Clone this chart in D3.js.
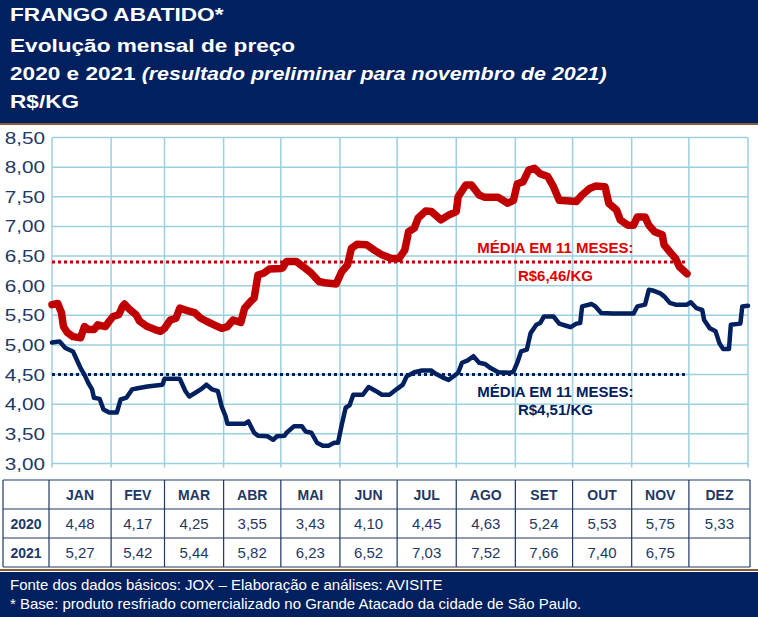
<!DOCTYPE html>
<html>
<head>
<meta charset="utf-8">
<script src="https://cdn.jsdelivr.net/npm/d3@7"></script>
<style>
  body { margin: 0; background: #fff; }
  svg { display: block; font-family: Arial, "Liberation Sans", sans-serif; }
</style>
</head>
<body>
<svg id="chart" width="758" height="617"></svg>
<script>
// ---- data ----
const titleLines = ["FRANGO ABATIDO*", "Evolução mensal de preço", "2020 e 2021", "R$/KG"];
const titleNote = "(resultado preliminar para novembro de 2021)";
const footerLines = [
    "Fonte dos dados básicos: JOX – Elaboração e análises: AVISITE",
    "* Base: produto resfriado comercializado no Grande Atacado da cidade de São Paulo."
];

const months = ["JAN", "FEV", "MAR", "ABR", "MAI", "JUN", "JUL", "AGO", "SET", "OUT", "NOV", "DEZ"];
const monthStart = [0, 31, 59, 90, 120, 151, 181, 212, 243, 273, 304, 334, 365];
const yTicks = [3, 3.5, 4, 4.5, 5, 5.5, 6, 6.5, 7, 7.5, 8, 8.5];

const years = ["2020", "2021"];
const table2020 = [4.48, 4.17, 4.25, 3.55, 3.43, 4.10, 4.45, 4.63, 5.24, 5.53, 5.75, 5.33];
const table2021 = [5.27, 5.42, 5.44, 5.82, 6.23, 6.52, 7.03, 7.52, 7.66, 7.40, 6.75];

// day of year / price, 2021 (red)
const days2021 = [0, 3, 5, 6, 8, 11, 15, 17, 19, 22, 24, 28, 30, 32, 35, 37, 38, 41, 44, 46, 50, 54, 57, 59, 62, 65, 67, 71, 75, 78,
    81, 85, 89, 92, 95, 99, 101, 104, 106, 108, 111, 114, 120, 121, 123, 128, 133, 136, 140, 143, 149, 152, 155, 157, 160, 165, 169,
    173, 178, 182, 185, 187, 190, 192, 196, 199, 204, 208, 212, 213, 217, 220, 224, 227, 234, 239, 242, 244, 247, 250, 253, 256, 260,
    263, 266, 275, 278, 282, 285, 290, 292, 296, 298, 302, 305, 307, 311, 313, 316, 320, 321, 324, 327, 329, 333];
const vals2021 = [5.68, 5.70, 5.54, 5.31, 5.21, 5.14, 5.12, 5.31, 5.26, 5.26, 5.34, 5.31, 5.40, 5.48, 5.51, 5.65, 5.69, 5.59, 5.51, 5.40,
    5.31, 5.26, 5.23, 5.28, 5.42, 5.45, 5.62, 5.58, 5.54, 5.45, 5.40, 5.34, 5.28, 5.31, 5.42, 5.38, 5.62, 5.73, 5.79, 6.18, 6.21, 6.28,
    6.29, 6.30, 6.41, 6.41, 6.29, 6.21, 6.07, 6.05, 6.03, 6.24, 6.35, 6.63, 6.70, 6.69, 6.60, 6.52, 6.46, 6.46, 6.60, 6.91, 6.97, 7.14,
    7.26, 7.25, 7.11, 7.19, 7.25, 7.50, 7.70, 7.70, 7.53, 7.49, 7.49, 7.39, 7.44, 7.72, 7.75, 7.95, 7.98, 7.89, 7.84, 7.67, 7.44, 7.42,
    7.53, 7.64, 7.68, 7.67, 7.39, 7.28, 7.11, 7.02, 7.02, 7.16, 7.16, 7.02, 6.91, 6.86, 6.69, 6.57, 6.46, 6.32, 6.20];

// day of year / price, 2020 (navy)
const days2020 = [0, 4, 7, 11, 13, 15, 17, 19, 21, 22, 25, 27, 30, 34, 36, 39, 42, 45, 50, 58, 59, 67, 70, 72, 75, 78, 81, 84, 87, 89,
    91, 92, 101, 103, 106, 108, 113, 116, 118, 122, 123, 127, 131, 133, 136, 139, 142, 145, 148, 150, 152, 154, 156, 158, 163, 166,
    170, 173, 177, 181, 184, 186, 190, 194, 199, 201, 205, 208, 211, 213, 215, 218, 221, 224, 227, 230, 234, 240, 242, 244, 246, 249,
    251, 254, 256, 258, 263, 266, 270, 272, 275, 277, 278, 283, 285, 288, 294, 305, 307, 311, 313, 315, 319, 321, 324, 327, 333, 335,
    338, 341, 342, 345, 348, 350, 352, 355, 356, 361, 362, 365];
const vals2020 = [5.04, 5.06, 4.95, 4.89, 4.75, 4.61, 4.50, 4.36, 4.25, 4.11, 4.09, 3.91, 3.86, 3.86, 4.08, 4.11, 4.25, 4.27, 4.30, 4.33,
    4.43, 4.43, 4.22, 4.13, 4.19, 4.25, 4.33, 4.25, 4.22, 3.96, 3.80, 3.67, 3.67, 3.71, 3.52, 3.47, 3.46, 3.40, 3.46, 3.47, 3.52, 3.63,
    3.63, 3.54, 3.52, 3.35, 3.30, 3.30, 3.35, 3.35, 3.66, 3.94, 3.98, 4.16, 4.16, 4.29, 4.22, 4.16, 4.16, 4.26, 4.33, 4.47, 4.54, 4.57,
    4.57, 4.52, 4.45, 4.41, 4.48, 4.53, 4.70, 4.74, 4.81, 4.70, 4.68, 4.61, 4.54, 4.53, 4.55, 4.70, 4.89, 4.92, 5.20, 5.34, 5.37, 5.48,
    5.48, 5.36, 5.32, 5.30, 5.36, 5.37, 5.65, 5.69, 5.65, 5.54, 5.53, 5.53, 5.65, 5.68, 5.93, 5.92, 5.87, 5.82, 5.71, 5.68, 5.68, 5.72,
    5.62, 5.59, 5.42, 5.28, 5.23, 5.03, 4.93, 4.93, 5.34, 5.36, 5.65, 5.66];

// 11-month averages (line level as drawn) and their labels
const avgLevel = [6.40, 4.50];
const avgEndDay = 333;
const avgLabels = [["MÉDIA EM 11 MESES:", "R$6,46/KG"], ["MÉDIA EM 11 MESES:", "R$4,51/KG"]];

// ---- styling ----
const navy = "#002060";
const red = "#c00000";
const grid = "#9ccfdf";
const brown = "#8a5a32";

const svg = d3.select("#chart");
const br = d3.formatLocale({ decimal: ",", thousands: ".", grouping: [3], currency: ["R$", ""] });
const fmt = br.format(".2f");

// the source picture has its text a bit wider than plain Arial
function wideText(parent, px, py, stretch) {
    return parent.append("g")
        .attr("transform", `translate(${px},${py}) scale(${stretch},1)`)
        .append("text");
}

// header band
svg.append("rect").attr("x", 0).attr("y", 0).attr("width", 758).attr("height", 123).attr("fill", navy);
svg.append("rect").attr("x", 0).attr("y", 123).attr("width", 758).attr("height", 2).attr("fill", brown);

const titleY = [21, 52, 80, 108];
const title = svg.append("g").attr("fill", "#fff").attr("font-weight", "bold").attr("font-size", 19);
titleLines.forEach((t, i) => {
    const txt = wideText(title, 10, titleY[i], 1.19).text(t);
    if (i === 2) {
        txt.append("tspan").attr("font-style", "italic").attr("font-size", 18).text(" " + titleNote);
    }
});

// scales
const x = d3.scaleLinear().domain([0, 365]).range([52, 748]);
const y = d3.scaleLinear().domain([3, 8.5]).range([463.5, 137.5]);

// grid
const g = svg.append("g");
g.append("g").selectAll("line").data(yTicks).join("line")
    .attr("x1", x(0)).attr("x2", x(365))
    .attr("y1", d => y(d)).attr("y2", d => y(d))
    .attr("stroke", grid).attr("stroke-width", 1.5);
g.append("g").selectAll("line").data(monthStart).join("line")
    .attr("x1", d => x(d)).attr("x2", d => x(d))
    .attr("y1", y(8.5)).attr("y2", y(3) + 4)
    .attr("stroke", grid).attr("stroke-width", 1.5);

// y labels
const yLab = g.append("g").attr("font-size", 17).attr("fill", "#1f3864");
yTicks.forEach(d => {
    wideText(yLab, 45, y(d) + 6, 1.22).attr("text-anchor", "end").text(fmt(d));
});

// average lines
const avgColor = [red, navy];
avgLevel.forEach((v, i) => {
    g.append("line")
        .attr("x1", x(0)).attr("x2", x(avgEndDay))
        .attr("y1", y(v)).attr("y2", y(v))
        .attr("stroke", avgColor[i]).attr("stroke-width", 3)
        .attr("stroke-dasharray", "3,3");
});

// price lines
const line = d3.line().x(d => x(d[0])).y(d => y(d[1]));
const s2020 = days2020.map((d, i) => [d, vals2020[i]]);
const s2021 = days2021.map((d, i) => [d, vals2021[i]]);

g.append("path").datum(s2020)
    .attr("d", line).attr("fill", "none")
    .attr("stroke", navy).attr("stroke-width", 4.5)
    .attr("stroke-linejoin", "round").attr("stroke-linecap", "round");
g.append("path").datum(s2021)
    .attr("d", line).attr("fill", "none")
    .attr("stroke", red).attr("stroke-width", 7.5)
    .attr("stroke-linejoin", "round").attr("stroke-linecap", "round");

// average labels
const labelDx = 264;
const labelOffsets = [[-9, 19], [22, 40]];
avgLevel.forEach((v, i) => {
    avgLabels[i].forEach((t, j) => {
        g.append("text")
            .attr("x", x(labelDx)).attr("y", y(v) + labelOffsets[i][j])
            .attr("text-anchor", "middle")
            .attr("font-size", 15).attr("font-weight", "bold")
            .attr("fill", i === 0 ? "#e00000" : navy)
            .text(t);
    });
});

// table
const rowY = [480, 509, 538, 567];
const colX = [3, 49].concat(monthStart.slice(1).map(d => x(d)));
colX[colX.length - 1] = 750;
const tbl = svg.append("g");
rowY.forEach(r => {
    tbl.append("line").attr("x1", 3).attr("x2", 750).attr("y1", r).attr("y2", r)
        .attr("stroke", "#1f3864").attr("stroke-width", 1.2);
});
colX.forEach(c => {
    tbl.append("line").attr("x1", c).attr("x2", c).attr("y1", rowY[0]).attr("y2", rowY[3])
        .attr("stroke", "#1f3864").attr("stroke-width", 1.2);
});
const colMid = i => (colX[i + 1] + colX[i + 2]) / 2;
tbl.append("g").selectAll("text").data(months).join("text")
    .attr("x", (d, i) => colMid(i)).attr("y", (rowY[0] + rowY[1]) / 2 + 5)
    .attr("text-anchor", "middle").attr("font-weight", "bold").attr("font-size", 14)
    .attr("fill", "#1f3864").text(d => d);
[table2020, table2021].forEach((vals, r) => {
    const cy = (rowY[r + 1] + rowY[r + 2]) / 2 + 5;
    tbl.append("text").attr("x", (colX[0] + colX[1]) / 2).attr("y", cy)
        .attr("text-anchor", "middle").attr("font-weight", "bold").attr("font-size", 14)
        .attr("fill", "#1f3864").text(years[r]);
    tbl.append("g").selectAll("text").data(vals).join("text")
        .attr("x", (d, i) => colMid(i)).attr("y", cy)
        .attr("text-anchor", "middle").attr("font-size", 15)
        .attr("fill", "#1f3864").text(d => fmt(d));
});

// footer band
svg.append("rect").attr("x", 0).attr("y", 569).attr("width", 758).attr("height", 2).attr("fill", brown);
svg.append("rect").attr("x", 0).attr("y", 572).attr("width", 758).attr("height", 45).attr("fill", navy);
footerLines.forEach((t, i) => {
    svg.append("text").attr("x", 10).attr("y", 590 + i * 19)
        .attr("fill", "#fff").attr("font-size", 15).text(t);
});
</script>
</body>
</html>
